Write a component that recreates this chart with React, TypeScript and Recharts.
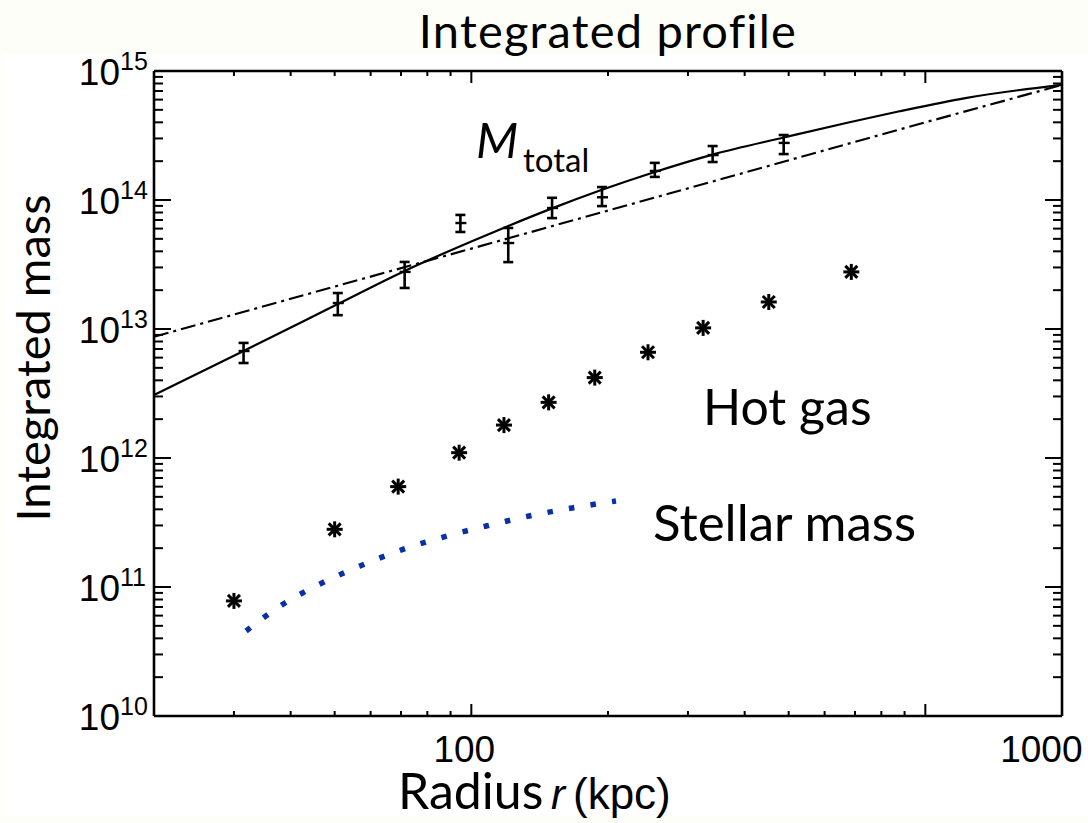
import React from 'react';
import { ComposedChart, Line, Scatter, XAxis, YAxis, ErrorBar } from 'recharts';

// ---------- data (radius in kpc, mass in solar masses) ----------
const X_DOMAIN: [number, number] = [20, 2000];
const Y_DOMAIN: [number, number] = [1e10, 1e15];

// Total mass measurements with error bars
const totalRadius = [31.5, 50.8, 71.3, 94.6, 120.6, 150.6, 194, 253.6, 340, 487.5];
const totalMass = [6.75e12, 1.59e13, 2.77e13, 6.63e13, 4.64e13, 8.67e13, 1.05e14, 1.68e14, 2.23e14, 2.77e14];
const totalLow = [5.45e12, 1.28e13, 2.08e13, 5.65e13, 3.3e13, 7.24e13, 8.97e13, 1.51e14, 1.97e14, 2.27e14];
const totalHigh = [7.8e12, 1.9e13, 3.31e13, 7.66e13, 6.07e13, 1.04e14, 1.26e14, 1.94e14, 2.62e14, 3.19e14];

// Model fit (solid curve)
const fitRadius = [20, 31.5, 50.8, 71.3, 100, 120.6, 150.6, 194, 253.6, 340, 487.5, 677, 872, 1225, 2000];
const fitMass = [3.08e12, 6.75e12, 1.56e13, 2.82e13, 4.77e13, 6.29e13, 8.61e13, 1.2e14, 1.65e14, 2.25e14, 3.05e14, 3.99e14, 4.85e14, 6.17e14, 7.82e14];

// Isothermal model (dash-dot line)
const isoRadius = [20, 100, 1000, 2000];
const isoMass = [8.7e12, 4.2e13, 4.0e14, 7.8e14];

// Hot gas (asterisks)
const gasRadius = [30, 50, 69, 94, 118, 148, 187, 245, 324, 452, 687];
const gasMass = [7.8e10, 2.8e11, 6.0e11, 1.1e12, 1.8e12, 2.7e12, 4.2e12, 6.6e12, 1.02e13, 1.62e13, 2.77e13];

// Stellar mass (blue dotted)
const starRadius = [31.9, 38.2, 46.3, 57.0, 70.2, 86.7, 107.9, 134.1, 166.7, 208.3];
const starMass = [4.56e10, 7.24e10, 1.05e11, 1.46e11, 1.94e11, 2.44e11, 2.97e11, 3.55e11, 4.1e11, 4.64e11];

// Ticks
const xTickValues = [30, 40, 50, 60, 70, 80, 90, 100, 200, 300, 400, 500, 600, 700, 800, 900, 1000];
const xTickLabels: Record<number, string> = { 100: '100', 1000: '1000' };
const yExponents = [10, 11, 12, 13, 14, 15];
const yMultipliers = [1, 2, 3, 4, 5, 6, 7, 8, 9];

// ---------- build tables ----------
const yTickValues: number[] = [];
yExponents.forEach((e) => {
  yMultipliers.forEach((k) => {
    const v = k * Math.pow(10, e);
    if (v <= Y_DOMAIN[1] * 1.0001) yTickValues.push(v);
  });
});

const totalData = totalRadius.map((r, i) => ({
  r,
  m: totalMass[i],
  err: [totalMass[i] - totalLow[i], totalHigh[i] - totalMass[i]],
}));
const fitData = fitRadius.map((r, i) => ({ r, m: fitMass[i] }));
const isoData = isoRadius.map((r, i) => ({ r, m: isoMass[i] }));
const gasData = gasRadius.map((r, i) => ({ r, m: gasMass[i] }));
const starData = starRadius.map((r, i) => ({ r, m: starMass[i] }));

const isDecade = (v: number) => Math.abs(Math.log10(v) - Math.round(Math.log10(v))) < 1e-6;

const AX = "'Liberation Sans', Arial, sans-serif";
const CAL = "Lato, 'Open Sans', sans-serif";

// ---------- tick renderers ----------
const BottomTick = (props: any) => {
  const { x, y, payload } = props;
  const v = payload.value;
  const major = isDecade(v);
  const label = xTickLabels[v];
  return (
    <g>
      <line x1={x} x2={x} y1={y} y2={y - (major ? 12 : 5)} stroke="#000" strokeWidth={2} />
      {label ? (
        <text
          x={label === '1000' ? x + 116 : x - 7}
          y={y + 46}
          textAnchor="middle"
          fontFamily={AX}
          fontSize={37}
          fill="#000"
        >
          {label}
        </text>
      ) : null}
    </g>
  );
};

const TopTick = (props: any) => {
  const { x, y, payload } = props;
  const major = isDecade(payload.value);
  return <line x1={x} x2={x} y1={y} y2={y + (major ? 12 : 5)} stroke="#000" strokeWidth={2} />;
};

const LeftTick = (props: any) => {
  const { x, y, payload } = props;
  const v = payload.value;
  const major = isDecade(v);
  const exp = Math.round(Math.log10(v));
  return (
    <g>
      <line x1={x} x2={x + (major ? 17 : 9)} y1={y} y2={y} stroke="#000" strokeWidth={2} />
      {major ? (
        <g fontFamily={AX} fill="#000">
          <text x={x - 34} y={y + 14} textAnchor="end" fontSize={37}>
            10
          </text>
          <text x={x - 34} y={y - 1} textAnchor="start" fontSize={25}>
            {String(exp)}
          </text>
        </g>
      ) : null}
    </g>
  );
};

const RightTick = (props: any) => {
  const { x, y, payload } = props;
  const major = isDecade(payload.value);
  return <line x1={x} x2={x - (major ? 17 : 9)} y1={y} y2={y} stroke="#000" strokeWidth={2} />;
};

// ---------- marker shapes ----------
const ErrCenter = (props: any) => {
  const { cx, cy } = props;
  if (cx == null || cy == null) return null;
  return <line x1={cx - 5} x2={cx + 6} y1={cy} y2={cy} stroke="#000" strokeWidth={2.4} />;
};

const Asterisk = (props: any) => {
  const { cx, cy } = props;
  if (cx == null || cy == null) return null;
  const s = 8;
  const d = 6;
  return (
    <g stroke="#000" strokeWidth={3} strokeLinecap="butt">
      <line x1={cx - s} y1={cy} x2={cx + s} y2={cy} />
      <line x1={cx} y1={cy - s} x2={cx} y2={cy + s} />
      <line x1={cx - d} y1={cy - d} x2={cx + d} y2={cy + d} />
      <line x1={cx - d} y1={cy + d} x2={cx + d} y2={cy - d} />
    </g>
  );
};

const axisLineStyle = { stroke: '#000', strokeWidth: 2.6 };

export default function App() {
  return (
    <div style={{ position: 'absolute', left: 0, top: 0, width: 1088, height: 823, background: '#fefef9' }}>
      <div style={{ position: 'absolute', left: 4, top: 54, width: 1084, height: 762, background: '#ffffff' }} />
      <div style={{ position: 'absolute', left: 0, top: 0 }}>
        <ComposedChart
          width={1088}
          height={823}
          margin={{ top: 70, right: 25, bottom: 106, left: 153 }}
        >
          <XAxis
            xAxisId="b"
            type="number"
            dataKey="r"
            scale="log"
            domain={X_DOMAIN}
            allowDataOverflow
            ticks={xTickValues}
            interval={0}
            tick={<BottomTick />}
            tickLine={false}
            tickSize={0}
            tickMargin={0}
            height={1}
            axisLine={axisLineStyle}
          />
          <XAxis
            xAxisId="t"
            orientation="top"
            type="number"
            dataKey="r"
            scale="log"
            domain={X_DOMAIN}
            allowDataOverflow
            ticks={xTickValues}
            interval={0}
            tick={<TopTick />}
            tickLine={false}
            tickSize={0}
            tickMargin={0}
            height={1}
            axisLine={axisLineStyle}
          />
          <YAxis
            yAxisId="l"
            type="number"
            dataKey="m"
            scale="log"
            domain={Y_DOMAIN}
            allowDataOverflow
            ticks={yTickValues}
            interval={0}
            tick={<LeftTick />}
            tickLine={false}
            tickSize={0}
            tickMargin={0}
            width={1}
            axisLine={axisLineStyle}
          />
          <YAxis
            yAxisId="rt"
            orientation="right"
            type="number"
            dataKey="m"
            scale="log"
            domain={Y_DOMAIN}
            allowDataOverflow
            ticks={yTickValues}
            interval={0}
            tick={<RightTick />}
            tickLine={false}
            tickSize={0}
            tickMargin={0}
            width={1}
            axisLine={axisLineStyle}
          />

          <Line
            xAxisId="b"
            yAxisId="l"
            data={isoData}
            dataKey="m"
            type="linear"
            stroke="#000"
            strokeWidth={2.2}
            strokeDasharray="15 5 3 5"
            dot={false}
            activeDot={false}
            isAnimationActive={false}
          />
          <Line
            xAxisId="b"
            yAxisId="l"
            data={fitData}
            dataKey="m"
            type="monotone"
            stroke="#000"
            strokeWidth={2.2}
            dot={false}
            activeDot={false}
            isAnimationActive={false}
          />
          <Line
            xAxisId="b"
            yAxisId="l"
            data={starData}
            dataKey="m"
            type="monotone"
            stroke="#0a30a6"
            strokeWidth={5.5}
            strokeDasharray="5.5 16.3"
            dot={false}
            activeDot={false}
            isAnimationActive={false}
          />
          <Scatter
            xAxisId="b"
            yAxisId="l"
            data={totalData}
            dataKey="m"
            shape={<ErrCenter />}
            isAnimationActive={false}
          >
            <ErrorBar dataKey="err" direction="y" width={5} stroke="#000" strokeWidth={2.6} />
          </Scatter>
          <Scatter
            xAxisId="b"
            yAxisId="l"
            data={gasData}
            dataKey="m"
            shape={<Asterisk />}
            isAnimationActive={false}
          />
        </ComposedChart>
      </div>

      <svg
        width={1088}
        height={823}
        style={{ position: 'absolute', left: 0, top: 0, pointerEvents: 'none' }}
      >
        <text
          x={608}
          y={48}
          textAnchor="middle"
          fontFamily={CAL}
          fontSize={47}
          letterSpacing={1.2}
          fill="#000"
        >
          Integrated profile
        </text>
        <text
          transform="translate(50, 358) rotate(-90)"
          textAnchor="middle"
          fontFamily={CAL}
          fontSize={47}
          fill="#000"
        >
          Integrated mass
        </text>
        <text x={398} y={809} fontFamily={CAL} fontSize={50} fill="#000">
          Radius
        </text>
        <text x={551} y={809} fontFamily={AX} fontStyle="italic" fontSize={42} fill="#000">
          r
        </text>
        <text x={573} y={809} fontFamily={AX} fontSize={44} fill="#000">
          (kpc)
        </text>
        <text x={476} y={158} fontFamily={CAL} fontStyle="italic" fontSize={49} fill="#000">
          M
        </text>
        <text x={523} y={172} fontFamily={CAL} fontSize={33} fill="#000">
          total
        </text>
        <text x={703} y={425} fontFamily={CAL} fontSize={50} fill="#000">
          Hot gas
        </text>
        <text x={653} y={541} fontFamily={CAL} fontSize={51} fill="#000">
          Stellar mass
        </text>
      </svg>
    </div>
  );
}
